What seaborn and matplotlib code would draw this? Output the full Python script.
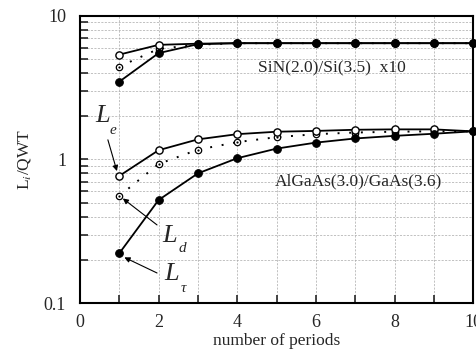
import matplotlib
matplotlib.use("Agg")
import matplotlib.pyplot as plt
import seaborn as sns
import pandas as pd
import numpy as np
from matplotlib.ticker import LogLocator, NullFormatter, MultipleLocator

periods = [1, 2, 3, 4, 5, 6, 7, 8, 9, 10]
sin_tau = [3.48, 5.50, 6.35, 6.45, 6.45, 6.45, 6.45, 6.45, 6.45, 6.45]
sin_e = [5.37, 6.28, 6.40, 6.45, 6.45, 6.45, 6.45, 6.45, 6.45, 6.45]
sin_d = [4.43, 5.89, 6.30, 6.45, 6.45, 6.45, 6.45, 6.45, 6.45, 6.45]
alg_e = [0.768, 1.16, 1.38, 1.50, 1.56, 1.58, 1.61, 1.62, 1.62, 1.57]
alg_d = [0.557, 0.93, 1.17, 1.32, 1.43, 1.50, 1.54, 1.56, 1.57, 1.57]
alg_tau = [0.222, 0.522, 0.80, 1.02, 1.19, 1.31, 1.40, 1.46, 1.51, 1.57]
x_ticks = [0, 2, 4, 6, 8, 10]
y_ticks = [0.1, 1, 10]
y_ticklabels = ["0.1", "1", "10"]

sns.set_style("white")
plt.rcParams['font.family'] = ['Liberation Serif', 'DejaVu Serif']
plt.rcParams['mathtext.fontset'] = 'stix'

fig = plt.figure(figsize=(4.76, 3.52), dpi=100)
ax = fig.add_axes([0.168, 0.139, 0.826, 0.816])

df = pd.DataFrame({"n": periods})
def draw(y, style):
    d = df.assign(v=y)
    if style == "d":
        sns.lineplot(data=d, x="n", y="v", ax=ax, color="black", lw=1.4,
                     linestyle=(0, (1, 5)), marker="o", markersize=4.6,
                     markerfacecolor="white", markeredgecolor="black",
                     markeredgewidth=0.9, clip_on=False, zorder=3)
        sns.lineplot(data=d, x="n", y="v", ax=ax, color="black", lw=0,
                     marker="o", markersize=1.6, markeredgewidth=0,
                     clip_on=False, zorder=3.5)
    elif style == "e":
        sns.lineplot(data=d, x="n", y="v", ax=ax, color="black", lw=1.3,
                     marker="o", markersize=5.2, markerfacecolor="white",
                     markeredgecolor="black", markeredgewidth=1.0,
                     clip_on=False, zorder=4)
    else:
        sns.lineplot(data=d, x="n", y="v", ax=ax, color="black", lw=1.3,
                     marker="o", markersize=5.5, markerfacecolor="black",
                     markeredgecolor="black", clip_on=False, zorder=5)

for series, st in [(sin_d, "d"), (sin_e, "e"), (sin_tau, "t"),
                   (alg_d, "d"), (alg_e, "e"), (alg_tau, "t")]:
    draw(series, st)

ax.set_yscale("log")
ax.set_xlim(0, 10)
ax.set_ylim(0.1, 10)
ax.set_xticks(x_ticks)
ax.set_xticklabels([str(t) for t in x_ticks])
ax.xaxis.set_minor_locator(MultipleLocator(1))
ax.set_yticks(y_ticks)
ax.set_yticklabels(y_ticklabels)
ax.yaxis.set_minor_locator(LogLocator(base=10, subs=np.arange(2, 10)))
ax.yaxis.set_minor_formatter(NullFormatter())

ax.grid(True, which="both", color="#a8a8a8", linestyle=(0, (3, 2)), linewidth=0.5)
ax.tick_params(which="both", direction="in", top=False, right=False, left=True, bottom=True,
               labelsize=13)
ax.tick_params(axis="y", which="both", pad=10)
ax.tick_params(axis="x", which="both", pad=8)
ax.tick_params(which="both", length=6, width=1.2)
for s in ax.spines.values():
    s.set_linewidth(1.5)
    s.set_color("black")

ax.set_xlabel("number of periods", fontsize=12.5, labelpad=1)
ax.set_ylabel(r"L$_i$/QWT", fontsize=12.5, labelpad=8)

ax.text(4.53, 4.34, "SiN(2.0)/Si(3.5)  x10", fontsize=12.5, va="center", ha="left")
ax.text(4.96, 0.708, "AlGaAs(3.0)/GaAs(3.6)", fontsize=12.5, va="center", ha="left")

def label(Lx, Ly, sx, sy, sub, tail, head):
    ax.text(Lx, Ly, "L", fontsize=19, style="italic", ha="center", va="center")
    ax.text(sx, sy, sub, fontsize=11, style="italic", ha="center", va="center")
    ax.annotate("", xy=head, xytext=tail,
                arrowprops=dict(arrowstyle="-|>", color="black", lw=0.8,
                                mutation_scale=8, shrinkA=0, shrinkB=0))

label(0.585, 2.01, 0.84, 1.58, "e", (0.71, 1.37), (0.94, 0.83))
label(2.29, 0.293, 2.60, 0.238, "d", (1.96, 0.350), (1.09, 0.535))
label(2.32, 0.159, 2.62, 0.127, "τ", (1.96, 0.162), (1.13, 0.208))

fig.savefig("out.png", dpi=100)
